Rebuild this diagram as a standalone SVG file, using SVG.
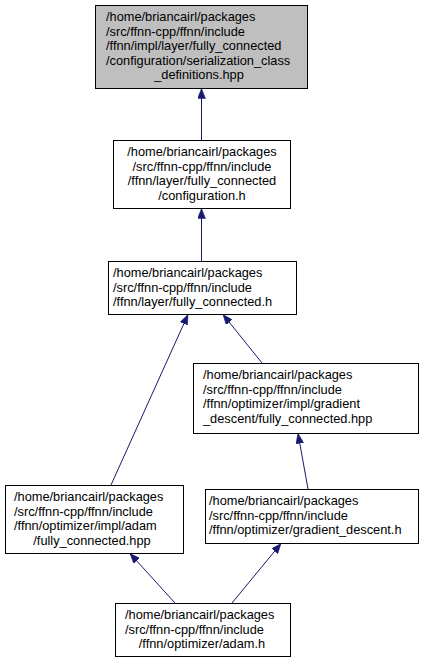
<svg xmlns="http://www.w3.org/2000/svg" width="428" height="664" viewBox="0 0 428 664">
<defs>
<style>
.box{fill:#ffffff;stroke:#000000;stroke-width:1}
.root{fill:#bfbfbf}
text{font-family:"Liberation Sans",Arial,Helvetica,sans-serif;font-size:12.8px;fill:#000000}
.c{text-anchor:middle}
.edge{stroke:#191970;stroke-width:1;fill:none;marker-end:url(#arr)}
</style>
<marker id="arr" viewBox="0 0 10 8" refX="10" refY="4" markerWidth="10" markerHeight="8" markerUnits="userSpaceOnUse" orient="auto">
<path d="M0,0 L10,4 L0,8 Z" fill="#191970" stroke="#191970" stroke-width="0.5"/>
</marker>
</defs>
<rect width="428" height="664" fill="#ffffff"/>
<g id="edges">
<line class="edge" x1="201.5" y1="140" x2="201.5" y2="88.5"/>
<line class="edge" x1="201.5" y1="261" x2="201.5" y2="208.5"/>
<line class="edge" x1="111" y1="485" x2="188" y2="314.5"/>
<line class="edge" x1="262" y1="363" x2="223" y2="314.5"/>
<line class="edge" x1="308" y1="489" x2="298" y2="433.5"/>
<line class="edge" x1="175" y1="603" x2="130" y2="553.5"/>
<line class="edge" x1="232" y1="603" x2="281" y2="543.5"/>
</g>
<g id="node1">
<rect class="box root" x="95.5" y="5.5" width="212" height="83"/>
<text x="106" y="21">/home/briancairl/packages</text>
<text x="106" y="35.5">/src/ffnn-cpp/ffnn/include</text>
<text x="106" y="50">/ffnn/impl/layer/fully_connected</text>
<text x="106" y="64.5">/configuration/serialization_class</text>
<text class="c" x="199" y="79">_definitions.hpp</text>
</g>
<g id="node2">
<rect class="box" x="113.5" y="140.5" width="177" height="68"/>
<text class="c" x="202" y="156">/home/briancairl/packages</text>
<text class="c" x="202" y="170.5">/src/ffnn-cpp/ffnn/include</text>
<text class="c" x="202" y="185">/ffnn/layer/fully_connected</text>
<text class="c" x="202" y="199.5">/configuration.h</text>
</g>
<g id="node3">
<rect class="box" x="108.5" y="261.5" width="188" height="53"/>
<text x="113" y="277">/home/briancairl/packages</text>
<text x="113" y="291.5">/src/ffnn-cpp/ffnn/include</text>
<text x="113" y="306">/ffnn/layer/fully_connected.h</text>
</g>
<g id="node4">
<rect class="box" x="193.5" y="363.5" width="225" height="70"/>
<text x="203" y="379">/home/briancairl/packages</text>
<text x="203" y="393.5">/src/ffnn-cpp/ffnn/include</text>
<text x="203" y="408">/ffnn/optimizer/impl/gradient</text>
<text x="203" y="422.5">_descent/fully_connected.hpp</text>
</g>
<g id="node5">
<rect class="box" x="5.5" y="485.5" width="178" height="68"/>
<text x="14" y="501">/home/briancairl/packages</text>
<text x="14" y="515.5">/src/ffnn-cpp/ffnn/include</text>
<text x="14" y="530">/ffnn/optimizer/impl/adam</text>
<text class="c" x="92" y="544.5">/fully_connected.hpp</text>
</g>
<g id="node6">
<rect class="box" x="205.5" y="489.5" width="213" height="54"/>
<text x="209" y="505">/home/briancairl/packages</text>
<text x="209" y="519.5">/src/ffnn-cpp/ffnn/include</text>
<text x="209" y="534">/ffnn/optimizer/gradient_descent.h</text>
</g>
<g id="node7">
<rect class="box" x="115.5" y="603.5" width="175" height="53"/>
<text x="125" y="619">/home/briancairl/packages</text>
<text x="125" y="633.5">/src/ffnn-cpp/ffnn/include</text>
<text class="c" x="202" y="648">/ffnn/optimizer/adam.h</text>
</g>
</svg>
